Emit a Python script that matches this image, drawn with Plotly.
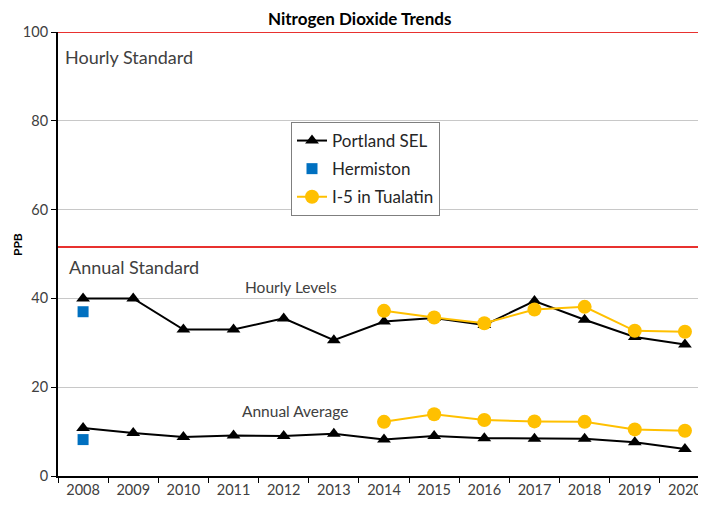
import plotly.graph_objects as go

years = ["2008", "2009", "2010", "2011", "2012", "2013", "2014", "2015", "2016", "2017", "2018", "2019", "2020"]
tualatin_years = ["2014", "2015", "2016", "2017", "2018", "2019", "2020"]

portland_hourly = [40.0, 40.0, 33.0, 33.0, 35.5, 30.6, 34.8, 35.6, 34.0, 39.4, 35.2, 31.3, 29.6]
portland_annual = [10.8, 9.7, 8.8, 9.1, 9.0, 9.5, 8.2, 9.0, 8.5, 8.4, 8.4, 7.6, 6.1]
tualatin_hourly = [37.2, 35.7, 34.4, 37.5, 38.1, 32.7, 32.5]
tualatin_annual = [12.2, 13.9, 12.6, 12.3, 12.2, 10.5, 10.2]
hermiston_year = ["2008"]
hermiston_hourly = [37.0]
hermiston_annual = [8.2]

hourly_standard = 100
annual_standard = 51.6

FONT = "Lato, 'Open Sans', sans-serif"
BLACK = "#000000"
GOLD = "#ffc000"
BLUE = "#0070c0"
GREY_TXT = "#404040"

fig = go.Figure()

# Hermiston (drawn first so Portland triangles sit on top)
fig.add_trace(go.Scatter(x=hermiston_year, y=hermiston_hourly, mode="markers", name="Hermiston",
                         legendrank=2, legendgroup="her",
                         marker=dict(symbol="square", size=11, color=BLUE)))
fig.add_trace(go.Scatter(x=hermiston_year, y=hermiston_annual, mode="markers", name="Hermiston",
                         showlegend=False, legendgroup="her",
                         marker=dict(symbol="square", size=11, color=BLUE)))
# Portland SEL
fig.add_trace(go.Scatter(x=years, y=portland_hourly, mode="lines+markers", name="Portland SEL",
                         legendrank=1, legendgroup="por",
                         line=dict(color=BLACK, width=2),
                         marker=dict(symbol="triangle-up", size=12, color=BLACK)))
fig.add_trace(go.Scatter(x=years, y=portland_annual, mode="lines+markers", name="Portland SEL",
                         showlegend=False, legendgroup="por",
                         line=dict(color=BLACK, width=2),
                         marker=dict(symbol="triangle-up", size=12, color=BLACK)))
# Tualatin
fig.add_trace(go.Scatter(x=tualatin_years, y=tualatin_hourly, mode="lines+markers", name="I-5 in Tualatin",
                         legendrank=3, legendgroup="tua",
                         line=dict(color=GOLD, width=2),
                         marker=dict(symbol="circle", size=14, color=GOLD)))
fig.add_trace(go.Scatter(x=tualatin_years, y=tualatin_annual, mode="lines+markers", name="I-5 in Tualatin",
                         showlegend=False, legendgroup="tua",
                         line=dict(color=GOLD, width=2),
                         marker=dict(symbol="circle", size=14, color=GOLD)))

for yv in (hourly_standard, annual_standard):
    fig.add_shape(type="line", xref="paper", yref="y", x0=0, x1=1, y0=yv, y1=yv,
                  line=dict(color="#e8312f", width=2), layer="above")

# page body has an 8px margin; screen coordinates are converted below
OFF = 8
PW, PH = 648, 444
L_S, T_S = 58, 32  # plot area top-left on screen


def px(xs):
    return (xs - L_S) / PW


def py(ys):
    return (T_S + PH - ys) / PH


fig.add_annotation(text="<b>Nitrogen Dioxide Trends</b>", xref="paper", yref="paper",
                   x=px(359), y=py(18), showarrow=False,
                   font=dict(family=FONT, size=17, color=BLACK), xanchor="center", yanchor="middle")
fig.add_annotation(text="Hourly Standard", xref="paper", yref="paper",
                   x=px(63), y=py(57), showarrow=False,
                   font=dict(family=FONT, size=18, color=GREY_TXT), xanchor="left", yanchor="middle")
fig.add_annotation(text="Annual Standard", xref="paper", yref="paper",
                   x=px(67), y=py(267), showarrow=False,
                   font=dict(family=FONT, size=18, color=GREY_TXT), xanchor="left", yanchor="middle")
fig.add_annotation(text="Hourly Levels", xref="paper", yref="paper",
                   x=px(291), y=py(287), showarrow=False,
                   font=dict(family=FONT, size=15.5, color=GREY_TXT), xanchor="center", yanchor="middle")
fig.add_annotation(text="Annual Average", xref="paper", yref="paper",
                   x=px(295), y=py(411), showarrow=False,
                   font=dict(family=FONT, size=15.5, color=GREY_TXT), xanchor="center", yanchor="middle")
fig.add_annotation(text="<b>PPB</b>", xref="paper", yref="paper",
                   x=px(17), y=py(245), showarrow=False, textangle=-90,
                   font=dict(family=FONT, size=12, color=BLACK), xanchor="center", yanchor="middle")

W, H = 706 - OFF, 506 - OFF
fig.update_layout(
    width=W, height=H,
    margin=dict(l=L_S - OFF, r=W - (L_S - OFF) - PW, t=T_S - OFF, b=H - (T_S - OFF) - PH, autoexpand=False),
    paper_bgcolor="white", plot_bgcolor="white",
    font=dict(family=FONT, color=GREY_TXT),
    showlegend=True,
    legend=dict(x=px(291), y=py(122), xanchor="left", yanchor="top",
                bgcolor="white", bordercolor="#7f7f7f", borderwidth=1,
                font=dict(family=FONT, size=17, color="#262626"),
                tracegroupgap=3, itemwidth=30),
    xaxis=dict(type="category", range=[-0.5, 12.42], showgrid=False, automargin=False,
               showline=True, linecolor=BLACK, linewidth=2,
               ticks="outside", ticklen=5, tickcolor=BLACK, tickson="boundaries",
               categoryorder="array", categoryarray=years,
               tickfont=dict(family=FONT, size=14.5, color=GREY_TXT), zeroline=False),
    yaxis=dict(range=[0, 100], tickvals=[0, 20, 40, 60, 80, 100], showgrid=True, automargin=False,
               gridcolor="#c8c8c8", gridwidth=1,
               showline=True, linecolor=BLACK, linewidth=2,
               ticks="outside", ticklen=5, tickcolor=BLACK,
               tickfont=dict(family=FONT, size=14.5, color=GREY_TXT), zeroline=False),
)

fig.write_html("out.html")
